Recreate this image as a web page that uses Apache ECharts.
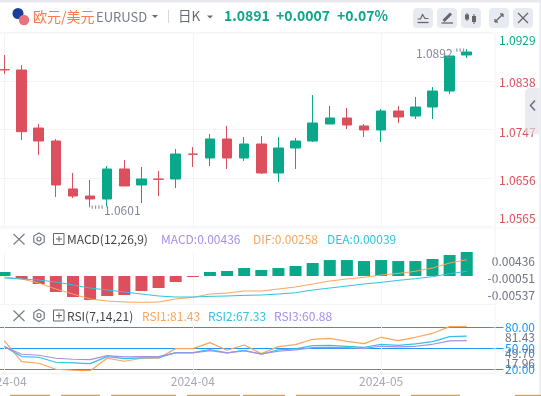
<!DOCTYPE html>
<html><head><meta charset="utf-8">
<style>html,body{margin:0;padding:0;background:#fff;overflow:hidden}#c{width:541px;height:396px}</style>
<script src="https://cdn.jsdelivr.net/npm/echarts@6/dist/echarts.min.js"></script>
</head><body><div id="c"></div>
<script>
const dates = ['2024-04-08','2024-04-09','2024-04-10','2024-04-11','2024-04-12','2024-04-15','2024-04-16','2024-04-17','2024-04-18','2024-04-19','2024-04-22','2024-04-23','2024-04-24','2024-04-25','2024-04-26','2024-04-29','2024-04-30','2024-05-01','2024-05-02','2024-05-03','2024-05-06','2024-05-07','2024-05-08','2024-05-09','2024-05-10','2024-05-13','2024-05-14','2024-05-15',''];
const opens  = [1.08592,1.08586,1.07498,1.07254,1.06354,1.06222,1.06166,1.06729,1.06429,1.06541,1.06541,1.0701,1.06935,1.07292,1.06935,1.07198,1.06654,1.07123,1.07254,1.07573,1.07686,1.07536,1.07461,1.07817,1.07723,1.07892,1.08192,1.08868];
const closes = [1.0859,1.07429,1.07254,1.06429,1.06222,1.06166,1.06729,1.0641,1.06541,1.06535,1.0701,1.07005,1.07292,1.06935,1.07198,1.06654,1.07123,1.07254,1.07592,1.07686,1.07554,1.07461,1.07817,1.07705,1.07892,1.08192,1.08849,1.08924];
const lows   = [1.08511,1.07273,1.06992,1.06204,1.06185,1.0601,1.06035,1.0641,1.06091,1.06222,1.06372,1.06766,1.06785,1.06729,1.06879,1.06635,1.06485,1.06729,1.07236,1.07573,1.07479,1.07329,1.07236,1.07592,1.07667,1.07667,1.08136,1.08812];
const highs  = [1.08868,1.0868,1.07573,1.07292,1.06654,1.06523,1.06785,1.06898,1.06766,1.06691,1.07104,1.07142,1.07386,1.07536,1.07329,1.07348,1.07329,1.07311,1.08117,1.07911,1.07873,1.07573,1.07855,1.07911,1.0808,1.08267,1.08849,1.0898];
const macdHist = [0.00073,-0.00054,-0.00145,-0.0029,-0.00381,-0.00436,-0.00363,-0.00345,-0.00272,-0.00218,-0.00109,-0.00018,0.00073,0.00091,0.00145,0.00109,0.00145,0.00182,0.00236,0.0029,0.0029,0.00272,0.0029,0.00272,0.00272,0.00309,0.00381,0.00436];
const difLine = [-0.00018,-0.00054,-0.00127,-0.00236,-0.00327,-0.00417,-0.00454,-0.00472,-0.00478,-0.00472,-0.00417,-0.00387,-0.00327,-0.00309,-0.00272,-0.00272,-0.00236,-0.00199,-0.00145,-0.00091,-0.00054,-0.00024,0.00018,0.00048,0.00085,0.00145,0.00236,0.00296];
const deaLine = [-0.00036,-0.00054,-0.00073,-0.00109,-0.00163,-0.00218,-0.00254,-0.0029,-0.00327,-0.00363,-0.00381,-0.00381,-0.00369,-0.00363,-0.00351,-0.00345,-0.00327,-0.00303,-0.00254,-0.00218,-0.00182,-0.00145,-0.00115,-0.00079,-0.00048,-0.00012,0.00042,0.00085];
const rsi1 = [60.48,30.97,28.59,20.02,18.6,17.96,35.73,31.45,35.73,35.73,49.54,49.54,58.1,47.16,54.77,42.4,52.39,55.25,62.86,64.29,60.01,56.68,65.72,60.96,65.72,71.43,80.95,81.43];
const rsi2 = [52.39,38.11,37.16,30.02,29.07,28.12,38.11,35.26,36.21,36.68,43.82,43.82,48.11,43.35,47.16,41.44,47.63,49.06,53.82,54.3,52.87,51.44,55.72,54.3,56.2,59.53,66.67,67.33];
const rsi3 = [52.39,41.44,40.02,35.73,34.3,33.83,39.54,37.64,38.11,38.11,43.35,43.35,46.68,43.35,46.2,41.92,45.73,47.63,50.96,51.44,50.96,50.01,52.87,51.92,52.87,55.72,60.48,60.88];
const priceTicks = [1.0929,1.0838,1.0747,1.0656,1.0565];
const macdTicks = [0.00436,-0.00051,-0.00537];
const rsiTicks = [81.43,17.96];
const rsiMidTicks = [49.70];
const rsiLevels = [80,50,20];
const highLabel = "1.0892 '''";
const lowLabel = "''''1.0601";

const FONT = '"Noto Sans CJK SC","Liberation Sans",sans-serif';
const GREEN='#0aa88a', RED='#dc4f5c', ORANGE='#fba55c', CYAN='#2fc4e0', PURPLE='#a98ee8', BLUE='#2196f3', GRID='#f3f4f8', GRAY='#6f7280';
const LEFT=-4.06, WIDTH=496.48;
const candles = opens.map((o,i)=>[o,closes[i],lows[i],highs[i]]);
const xSplit = {show:true,interval:10,alignWithLabel:true,lineStyle:{color:GRID,width:1}};
function xAxis(g,show){return {type:'category',gridIndex:g,data:dates,boundaryGap:true,
  axisLine:{show:false},axisTick:{show:false,alignWithLabel:true,interval:10},splitLine:xSplit,
  axisLabel:{show,interval:10,margin:5,color:'#a6a8b5',fontSize:12,fontFamily:FONT,hideOverlap:false,showMinLabel:true,formatter:v=>v.slice(0,7)}};}
function shifted(shifts,digits,color){ // vertical nudges keep edge labels inside their pane
  const rich={};
  shifts.forEach((s,i)=>{rich['s'+i]={fontSize:12,fontFamily:FONT,color:typeof color==='function'?color(i):color,padding:s>=0?[2*s,0,0,0]:[0,0,-2*s,0]};});
  return {rich,ticks:null,digits};
}
function yAxis(g,min,max,ticks,digits,shifts,color,align,margin,split){
  const s=shifted(shifts,digits,color);
  return {type:'value',gridIndex:g,position:'right',min,max,scale:true,
    axisLine:{show:false},axisTick:{show:false,customValues:ticks},
    splitLine:{show:split,lineStyle:{color:GRID,width:1}},
    axisLabel:{show:true,customValues:ticks,align,margin,showMinLabel:true,showMaxLabel:true,hideOverlap:false,
      formatter:v=>{const i=ticks.findIndex(t=>Math.abs(t-v)<1e-9);return '{s'+i+'|'+v.toFixed(digits)+'}';},rich:s.rich}};
}
const T=(x,y,text,fill,size,weight,align)=>({type:'text',x,y,z:50,silent:true,style:{text,fill,fontSize:size||12,fontWeight:weight||'normal',fontFamily:FONT,textAlign:align||'left',textVerticalAlign:'middle'}});
const R=(x,y,w,h,fill,r)=>({type:'rect',z:40,silent:true,shape:{x,y,width:w,height:h,r:r||0},style:{fill}});
const L=(x1,y1,x2,y2,stroke,w)=>({type:'line',z:45,silent:true,shape:{x1,y1,x2,y2},style:{stroke,lineWidth:w||1}});
const hex=(cx,cy,c)=>[{type:'polygon',z:45,silent:true,shape:{points:[[cx,cy-6],[cx+5.2,cy-3],[cx+5.2,cy+3],[cx,cy+6],[cx-5.2,cy+3],[cx-5.2,cy-3]]},style:{fill:'none',stroke:c,lineWidth:1.2}},
  {type:'circle',z:45,silent:true,shape:{cx,cy,r:2},style:{fill:'none',stroke:c,lineWidth:1.2}}];
function paneIcons(y){return [L(13.5,y-5,24.5,y+5.5,'#777b88',1.1),L(24.5,y-5,13.5,y+5.5,'#777b88',1.1),...hex(39,y,'#777b88'),
  {type:'rect',z:45,silent:true,shape:{x:53.5,y:y-5.5,width:10.5,height:11},style:{fill:'none',stroke:'#666',lineWidth:1}},L(56,y,62,y,'#666'),L(59,y-3,59,y+3,'#666')];}
const goldStrip=[[10,40],[61,39],[111,65],[187,53],[243,42],[296,65],[361,39],[411,49],[515,26]];
const graphics=[
  R(0,0,541,2.5,'#e7e9ef'),R(539.5,0,1.5,396,'#e7e9ef'),
  ...goldStrip.map(g=>R(g[0],394.8,g[1],1.2,'#c9a45c')),
  L(0,33,495,33,GRID),L(495,33,495,374,GRID),L(0,228,541,228,GRID),L(0,304.5,495,304.5,GRID),L(0,373.5,495,373.5,GRID),
  {type:'circle',z:45,silent:true,shape:{cx:18,cy:13.5,r:5.5},style:{fill:'#173f98'}},
  {type:'circle',z:46,silent:true,shape:{cx:24,cy:20,r:5.2},style:{fill:'#e8737c'}},
  L(19.5,18.2,28.5,18.2,'#fff',1),L(19,21,29,21,'#fff',1),L(20,23.6,28,23.6,'#fff',1),
  T(33,16.5,'欧元/美元','#fb7a4c',14),T(96,17,'EURUSD','#777b88',13),
  {type:'polygon',z:45,silent:true,shape:{points:[[152,15],[158,15],[155,18]]},style:{fill:'#666a76'}},
  L(168.5,10,168.5,23,'#d5d7df'),
  T(178,15.5,'日K','#666a76',13.5),
  {type:'polygon',z:45,silent:true,shape:{points:[[207,15.5],[213,15.5],[210,18.5]]},style:{fill:'#666a76'}},
  T(224,15.5,'1.0891',GREEN,14,'bold'),T(276,15.5,'+0.0007',GREEN,14,'bold'),T(337,15.5,'+0.07%',GREEN,14,'bold'),
  ...[413,437,461,489,513].map(x=>R(x,8,20,20,'#e8eaf1',4)),
  L(417.5,22.5,428.5,22.5,'#666',1.3),
  {type:'polyline',z:45,silent:true,shape:{points:[[417.5,19],[420.5,19],[422.5,14.5],[425,18.5],[428.5,18.5]]},style:{fill:'none',stroke:'#666',lineWidth:1.2}},
  L(441.5,23,453,23,'#666',1.3),L(443.5,21,451,13.5,'#666',3),
  L(467,13,467,21,'#666',1),R(465,14.5,4,5,'#666'),L(474,14,474,24,'#666',1),R(472,16,4,6,'#666'),
  L(495,22,503,14,'#666',1.3),L(495,22,498,22,'#666',1.3),L(495,22,495,19,'#666',1.3),L(503,14,500,14,'#666',1.3),L(503,14,503,17,'#666',1.3),
  L(518,13,528,23,'#666',1.2),L(528,13,518,23,'#666',1.2),
  {type:'rect',z:3,silent:true,shape:{x:525,y:88,width:14.5,height:46,r:[5,0,0,5]},style:{fill:'rgba(222,225,233,0.65)'}},
  {type:'polyline',z:45,silent:true,shape:{points:[[535,100.5],[530.5,105.5],[535,110.5]]},style:{fill:'none',stroke:'#6f7280',lineWidth:1.6}},
  ...paneIcons(239),T(67,239.5,'MACD(12,26,9)','#444',12),T(161,239.5,'MACD:0.00436',PURPLE,12),T(253,239.5,'DIF:0.00258',ORANGE,12),T(327,239.5,'DEA:0.00039',CYAN,12),
  ...paneIcons(315.5),T(67,316,'RSI(7,14,21)','#444',12),T(142,316,'RSI1:81.43',ORANGE,12),T(208,316,'RSI2:67.33',CYAN,12),T(274,316,'RSI3:60.88',PURPLE,12)
];
const line=(name,data,color,x,y,w)=>({name,type:'line',xAxisIndex:x,yAxisIndex:y,data,symbol:'none',smooth:false,lineStyle:{color,width:w||1},z:4,silent:true});
const blankPoint=(coord,pos,text,off)=>({coord,symbol:'circle',symbolSize:1,itemStyle:{color:'transparent'},label:{show:true,position:pos,distance:off,formatter:text,color:'#85889a',fontSize:12,fontFamily:FONT}});
const chart=echarts.init(document.getElementById('c'),null,{renderer:'canvas'});
const blueAxis=yAxis(2,17.96,81.43,rsiLevels,2,[0,0,0],BLUE,'right',42.6,true);
blueAxis.splitLine.lineStyle={color:BLUE,width:1};
blueAxis.axisTick={show:true,customValues:rsiLevels,length:11,lineStyle:{color:BLUE,width:1}};
const gridBase={left:LEFT,width:WIDTH,containLabel:false,outerBoundsMode:'none'};
const option={
  animation:false,backgroundColor:'#fff',tooltip:{show:false},
  grid:[{...gridBase,top:32.5,height:194},{...gridBase,top:252,height:53.6},{...gridBase,top:326.3,height:44.4}],
  xAxis:[xAxis(0,false),xAxis(1,false),xAxis(2,true)],
  yAxis:[
    yAxis(0,1.0565,1.0929,priceTicks,4,[8,1.7,2.5,2.7,-8.5],i=>i===0?GREEN:RED,'left',6.6,true),
    yAxis(1,-0.00537,0.00436,macdTicks,5,[9,0,-10],GRAY,'right',42.6,false),
    blueAxis,
    yAxis(2,17.96,81.43,rsiTicks,2,[11,-7.5],GRAY,'right',42.6,false),
    yAxis(2,17.96,81.43,rsiMidTicks,2,[4.5],GRAY,'right',42.6,false)
  ],
  series:[
    {type:'candlestick',xAxisIndex:0,yAxisIndex:0,data:candles,barWidth:10,silent:true,
     itemStyle:{color:GREEN,color0:RED,borderColor:GREEN,borderColor0:RED,borderWidth:1},
     markPoint:{silent:true,animation:false,data:[blankPoint([27,highs[27]-0.0008],'left',highLabel,1),blankPoint([5,lows[5]-0.0005],'right',lowLabel,0)]}},
    {name:'MACD',type:'bar',xAxisIndex:1,yAxisIndex:1,data:macdHist.map(v=>({value:v,itemStyle:{color:v>=0?GREEN:RED}})),barWidth:12,silent:true,z:2},
    line('DIF',difLine,ORANGE,1,1),line('DEA',deaLine,CYAN,1,1),
    line('RSI1',rsi1,ORANGE,2,3,1.2),line('RSI2',rsi2,CYAN,2,3,1.2),line('RSI3',rsi3,PURPLE,2,3,1.2)
  ],
  graphic:graphics
};
chart.setOption(option);
</script></body></html>
